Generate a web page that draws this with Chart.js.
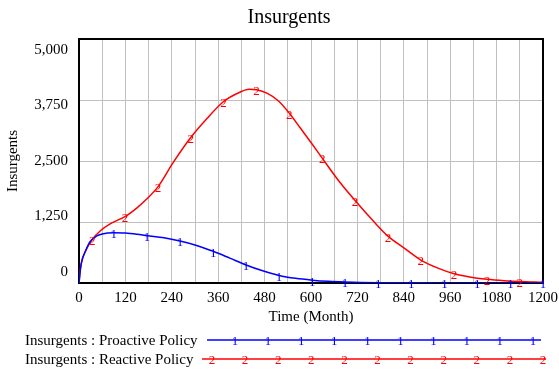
<!DOCTYPE html>
<html>
<head>
<meta charset="utf-8">
<script src="https://cdn.jsdelivr.net/npm/chart.js@4/dist/chart.umd.min.js"></script>
<style>
  html, body { margin: 0; padding: 0; background: #fff; }
</style>
</head>
<body>
<canvas id="chart" width="559" height="371"></canvas>
<script>
// Proactive Policy run (series 1)
const proactiveMonths = [0, 4, 8, 16, 28, 45, 60, 90, 120, 150, 176, 220, 261, 300, 347, 390, 432, 475, 517, 560, 603, 645, 688, 730, 774, 859, 945, 1030, 1116, 1200];
const proactiveValues = [0, 300, 470, 640, 840, 960, 1005, 1030, 1025, 1000, 970, 925, 860, 780, 650, 510, 370, 250, 155, 95, 58, 34, 20, 12, 7, 3, 1, 0, 0, 0];
const proactiveMarks = [90, 176, 261, 347, 432, 517, 603, 688, 774, 859, 945, 1030, 1116, 1200];

// Reactive Policy run (series 2)
const reactiveMonths = [0, 4, 8, 16, 34, 54, 85, 119, 150, 175, 204, 243, 289, 331, 374, 416, 440, 459, 486, 516, 544, 572, 600, 629, 672, 714, 760, 799, 840, 884, 930, 970, 1010, 1055, 1100, 1140, 1200];
const reactiveValues = [0, 320, 480, 640, 890, 1060, 1230, 1360, 1540, 1720, 1970, 2460, 2980, 3370, 3720, 3910, 3970, 3960, 3890, 3730, 3480, 3180, 2880, 2560, 2090, 1690, 1280, 960, 720, 470, 300, 190, 125, 78, 48, 30, 14];
const reactiveMarks = [34, 119, 204, 289, 374, 459, 544, 629, 714, 799, 884, 970, 1055, 1140];

const xTicks = [0, 120, 240, 360, 480, 600, 720, 840, 960, 1080, 1200];
const yTicks = [0, 1250, 2500, 3750, 5000];

const FONT = '"Liberation Serif", "Times New Roman", serif';
const GRID = '#c0c0c0';

const toPoints = (xs, ys) => xs.map((x, i) => ({ x: x, y: ys[i] }));

// frame, chart title, run markers, y labels and the legend, Vensim style
const vensimDecor = {
  id: 'vensimDecor',
  beforeDatasetsDraw(chart) {
    const { ctx, chartArea: a } = chart;
    ctx.save();
    ctx.strokeStyle = '#000';
    ctx.lineWidth = 2;
    ctx.strokeRect(a.left, a.top, a.right - a.left, a.bottom - a.top);
    ctx.restore();
  },
  afterDatasetsDraw(chart) {
    const ctx = chart.ctx;
    chart.data.datasets.forEach((ds, i) => {
      const meta = chart.getDatasetMeta(i);
      ctx.save();
      ctx.fillStyle = ds.borderColor;
      ctx.font = '13px ' + FONT;
      ctx.textAlign = 'center';
      ctx.textBaseline = 'middle';
      meta.data.forEach((pt, j) => {
        if (ds.marks.includes(ds.data[j].x)) ctx.fillText(ds.marker, pt.x, pt.y + 2);
      });
      ctx.restore();
    });
  },
  afterDraw(chart) {
    const ctx = chart.ctx;
    const a = chart.chartArea;
    const yScale = chart.scales.y;
    ctx.save();
    ctx.fillStyle = '#000';
    ctx.textBaseline = 'middle';
    ctx.textAlign = 'center';
    ctx.font = '20px ' + FONT;
    ctx.fillText('Insurgents', 289, 18);

    // Vensim packs the value labels slightly inside the frame
    ctx.font = '15px ' + FONT;
    ctx.textAlign = 'right';
    const inset = 11;
    const squeeze = (a.bottom - a.top - 2 * inset) / (a.bottom - a.top);
    yTicks.forEach(v => {
      const py = yScale.getPixelForValue(v);
      ctx.fillText(v.toLocaleString('en-US'), a.left - 11, a.top + inset + (py - a.top) * squeeze);
    });

    // legend rows
    const rows = [
      { label: 'Insurgents : Proactive Policy', y: 340, x0: 207, x1: 541, first: 235, n: 10, ds: chart.data.datasets[0] },
      { label: 'Insurgents : Reactive Policy', y: 359, x0: 202, x1: 546, first: 212, n: 11, ds: chart.data.datasets[1] }
    ];
    rows.forEach(r => {
      ctx.fillStyle = '#000';
      ctx.textAlign = 'left';
      ctx.font = '15px ' + FONT;
      ctx.fillText(r.label, 25, r.y + 1);
      ctx.strokeStyle = r.ds.borderColor;
      ctx.lineWidth = 1.5;
      ctx.beginPath();
      ctx.moveTo(r.x0, r.y);
      ctx.lineTo(r.x1, r.y);
      ctx.stroke();
      ctx.fillStyle = r.ds.borderColor;
      ctx.textAlign = 'center';
      ctx.font = '13px ' + FONT;
      for (let k = 0; k < r.n; k++) {
        ctx.fillText(r.ds.marker, r.first + k * 33.1, r.y + 2);
      }
    });
    ctx.restore();
  }
};

new Chart(document.getElementById('chart'), {
  type: 'line',
  data: {
    datasets: [
      {
        label: 'Insurgents : Proactive Policy',
        data: toPoints(proactiveMonths, proactiveValues),
        marks: proactiveMarks,
        marker: '1',
        borderColor: '#0000ff',
        borderWidth: 1.5,
        pointRadius: 0,
        cubicInterpolationMode: 'monotone',
        fill: false
      },
      {
        label: 'Insurgents : Reactive Policy',
        data: toPoints(reactiveMonths, reactiveValues),
        marks: reactiveMarks,
        marker: '2',
        borderColor: '#ff0000',
        borderWidth: 1.5,
        pointRadius: 0,
        cubicInterpolationMode: 'monotone',
        fill: false
      }
    ]
  },
  options: {
    responsive: false,
    animation: false,
    devicePixelRatio: 1,
    layout: { padding: { left: 0, right: 16, top: 39, bottom: 0 } },
    plugins: {
      legend: { display: false },
      title: { display: false },
      tooltip: { enabled: false }
    },
    scales: {
      x: {
        type: 'linear',
        min: 0,
        max: 1200,
        afterFit(s) {
          s.height = 88;
          s.paddingLeft = 0;
          s.paddingRight = 0;
        },
        afterBuildTicks(s) {
          const t = [];
          for (let v = 0; v <= 1200; v += 60) t.push({ value: v });
          s.ticks = t;
        },
        ticks: {
          autoSkip: false,
          maxRotation: 0,
          padding: 6,
          color: '#000',
          font: { family: FONT, size: 15 },
          callback: v => xTicks.includes(v) ? String(v) : ''
        },
        grid: { color: GRID, lineWidth: 1, drawTicks: false },
        border: { display: false },
        title: {
          display: true,
          text: 'Time (Month)',
          color: '#000',
          font: { family: FONT, size: 15 },
          padding: { top: 0, bottom: 45 }
        }
      },
      y: {
        min: 0,
        max: 5000,
        afterFit(s) {
          s.width = 79;
          s.paddingTop = 0;
          s.paddingBottom = 0;
        },
        afterBuildTicks(s) { s.ticks = yTicks.map(v => ({ value: v })); },
        // labels are drawn by vensimDecor; the ticks stay for the grid
        ticks: {
          padding: 11,
          color: 'rgba(0,0,0,0)',
          font: { family: FONT, size: 15 },
          callback: v => v.toLocaleString('en-US')
        },
        grid: { color: GRID, lineWidth: 1, drawTicks: false },
        border: { display: false },
        title: {
          display: true,
          text: 'Insurgents',
          color: '#000',
          font: { family: FONT, size: 15 },
          padding: { top: 4, bottom: 0 }
        }
      }
    }
  },
  plugins: [vensimDecor]
});
</script>
</body>
</html>
